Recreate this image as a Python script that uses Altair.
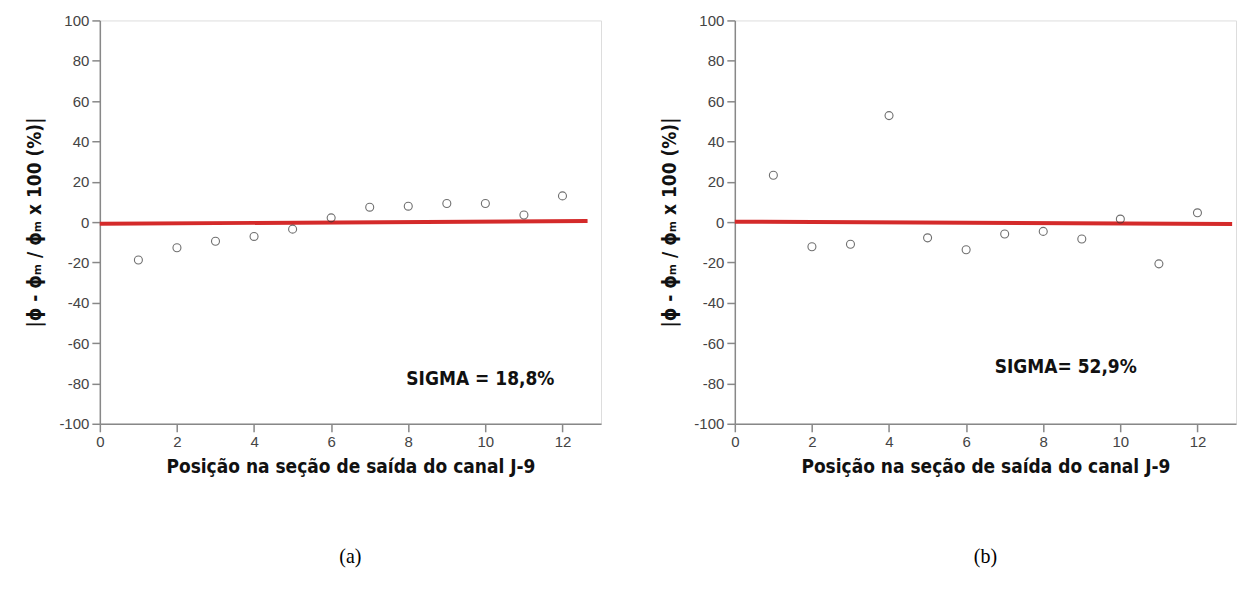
import altair as alt
import pandas as pd

# ---- data ----
positions = [1, 2, 3, 4, 5, 6, 7, 8, 9, 10, 11, 12]
dev_a = [-18.8, -12.7, -9.5, -7.1, -3.5, 2.1, 7.4, 7.9, 9.2, 9.2, 3.5, 13.0]
dev_b = [23.2, -12.2, -11.0, 52.8, -7.8, -13.7, -5.9, -4.6, -8.4, 1.5, -20.7, 4.6]

fit_a_x = [0, 12.65]
fit_a_y = [-0.8, 0.5]
fit_b_x = [0, 12.9]
fit_b_y = [0.2, -0.9]

sigma_labels = ["SIGMA = 18,8%", "SIGMA= 52,9%"]
sigma_x = [7.95, 6.74]
sigma_y = [-78, -72]
panel_labels = ["(a)", "(b)"]

x_ticks = list(range(0, 14))
y_ticks = list(range(-100, 101, 10))

X_TITLE = "Posição na seção de saída do canal J-9"
Y_TITLE = "|ϕ - ϕₘ / ϕₘ x 100 (%)|"

NARROW = "DejaVu Sans Condensed, Liberation Sans Narrow, Liberation Sans, sans-serif"
LBL = "Liberation Sans Narrow, Liberation Sans, sans-serif"


def panel(dev, fx, fy, idx):
    pts = pd.DataFrame({"pos": positions, "dev": dev})
    fit = pd.DataFrame({"pos": fx, "dev": fy})
    sig = pd.DataFrame({"pos": [sigma_x[idx]], "dev": [sigma_y[idx]], "t": [sigma_labels[idx]]})

    xaxis = alt.Axis(
        values=x_ticks,
        labelExpr="datum.value % 2 === 0 ? '' + datum.value : ''",
        tickSize={"condition": {"test": "datum.value % 2 === 0", "value": 8}, "value": 4},
        labelOverlap=False, labelFlush=False, grid=False,
        labelFont=LBL, labelFontSize=15, labelColor="#444", labelPadding=3,
        domainColor="#888", domainWidth=1.5, tickColor="#888", tickWidth=1.5,
        title=X_TITLE, titleFont=NARROW, titleFontSize=19, titleFontWeight="bold",
        titleColor="#111", titlePadding=8,
    )
    yaxis = alt.Axis(
        values=y_ticks,
        labelExpr="datum.value % 20 === 0 ? '' + datum.value : ''",
        tickSize={"condition": {"test": "datum.value % 20 === 0", "value": 8}, "value": 4},
        labelOverlap=False, labelFlush=False, grid=False,
        labelFont=LBL, labelFontSize=15, labelColor="#444", labelPadding=3,
        domainColor="#888", domainWidth=1.5, tickColor="#888", tickWidth=1.5,
        title=Y_TITLE, titleFont=NARROW, titleFontSize=19, titleFontWeight="bold",
        titleColor="#111", titlePadding=14,
    )
    xs = alt.Scale(domain=[0, 13], nice=False, zero=False)
    ys = alt.Scale(domain=[-100, 100], nice=False)

    line = alt.Chart(fit).mark_line(color="#d42a2a", strokeWidth=4).encode(
        x=alt.X("pos:Q", scale=xs, axis=xaxis),
        y=alt.Y("dev:Q", scale=ys, axis=yaxis),
    )
    points = alt.Chart(pts).mark_point(
        shape="circle", filled=False, size=64, stroke="#333", strokeWidth=1.1
    ).encode(x="pos:Q", y="dev:Q")
    text = alt.Chart(sig).mark_text(
        font=NARROW, fontSize=19, fontWeight="bold", align="left",
        baseline="middle", color="#111"
    ).encode(x="pos:Q", y="dev:Q", text="t:N")

    return alt.layer(line, points, text).properties(
        width=502, height=404,
        title=alt.TitleParams(
            panel_labels[idx], orient="bottom", font="Liberation Serif",
            fontSize=20, fontWeight="normal", color="black", offset=70,
        ),
    )


chart = alt.hconcat(
    panel(dev_a, fit_a_x, fit_a_y, 0),
    panel(dev_b, fit_b_x, fit_b_y, 1),
    spacing=134, bounds="flush",
).properties(
    padding={"left": 25, "top": 12, "right": 0, "bottom": 5}
).configure_view(
    stroke="#999", strokeWidth=1.5
).configure(background="white")

chart.save("out.html", embed_options={"renderer": "svg", "actions": False})
